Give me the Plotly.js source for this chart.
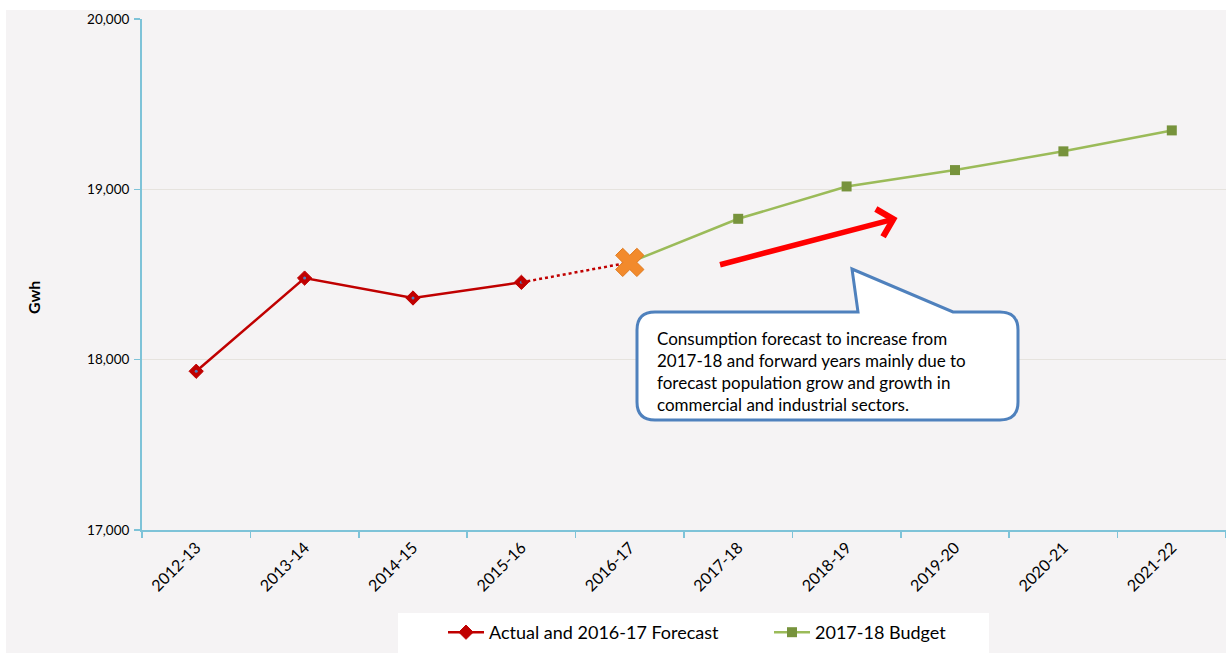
<!DOCTYPE html>
<html>
<head>
<meta charset="utf-8">
<script src="https://cdn.plot.ly/plotly-3.0.1.min.js"></script>
<style>
html,body{margin:0;padding:0;background:#ffffff;width:1226px;height:653px;overflow:hidden;}
#chart{position:absolute;left:6px;top:10px;width:1220px;height:643px;}
</style>
</head>
<body>
<div id="chart"></div>
<script>
const categories = ['2012-13','2013-14','2014-15','2015-16','2016-17','2017-18','2018-19','2019-20','2020-21','2021-22'];
const actual = [17932, 18479, 18362, 18454, null, null, null, null, null, null];
const forecastLink = [null, null, null, 18454, 18571, null, null, null, null, null];
const budget = [null, null, null, null, 18571, 18827, 19017, 19113, 19223, 19346];
const forecastMark = [null, null, null, null, 18571, null, null, null, null, null];
const yTicks = [17000, 18000, 19000, 20000];
const calloutLines = [
  'Consumption forecast to increase from',
  '2017-18 and forward years mainly due to',
  'forecast population grow and growth in',
  'commercial and industrial sectors.'
];

const FONT = 'Lato, "Open Sans", sans-serif';

// plot area geometry in page pixels (for shapes in paper coords)
const PL = 142, PR = 1226, PT = 19, PB = 530;
const px = x => (x - PL) / (PR - PL);
const py = y => (PB - y) / (PB - PT);

const traces = [
  {
    x: categories, y: actual, name: 'Actual and 2016-17 Forecast', type: 'scatter', mode: 'lines+markers',
    line: {color: '#c00000', width: 2.5},
    marker: {symbol: 'diamond', size: 11, color: '#c00000', line: {color: '#c00000', width: 1}},
    connectgaps: false, legend: 'legend'
  },
  {
    x: categories, y: budget, name: '2017-18 Budget', type: 'scatter', mode: 'lines+markers',
    line: {color: '#9bbb59', width: 2.5},
    marker: {symbol: 'square', size: 10, color: '#77933c'},
    connectgaps: false, legend: 'legend2'
  },
  {
    x: categories, y: actual, showlegend: false, type: 'scatter', mode: 'markers',
    marker: {symbol: 'circle', size: 3, color: '#4f81bd'}, hoverinfo: 'skip'
  },
  {
    x: categories, y: forecastLink, showlegend: false, type: 'scatter', mode: 'lines',
    line: {color: '#c00000', width: 2.5, dash: 'dot'}, hoverinfo: 'skip'
  },
  {
    x: categories, y: forecastMark, showlegend: false, type: 'scatter', mode: 'markers',
    marker: {symbol: 'x', size: 25, color: '#f28a2c', line: {color: '#e07a1e', width: 1}}, hoverinfo: 'skip'
  }
];

// callout bubble path (page px -> paper)
function P(x, y){ return px(x).toFixed(5) + ',' + py(y).toFixed(5); }
const bx1 = 637, bx2 = 1018, by1 = 312, by2 = 420, r = 18;
const bubble = 'M ' + P(bx1 + r, by1) +
  ' L ' + P(858, by1) + ' L ' + P(852, 269) + ' L ' + P(953, by1) +
  ' L ' + P(bx2 - r, by1) + ' Q ' + P(bx2, by1) + ' ' + P(bx2, by1 + r) +
  ' L ' + P(bx2, by2 - r) + ' Q ' + P(bx2, by2) + ' ' + P(bx2 - r, by2) +
  ' L ' + P(bx1 + r, by2) + ' Q ' + P(bx1, by2) + ' ' + P(bx1, by2 - r) +
  ' L ' + P(bx1, by1 + r) + ' Q ' + P(bx1, by1) + ' ' + P(bx1 + r, by1) + ' Z';

const annotations = [
  {xref: 'paper', yref: 'paper', x: px(33), y: py(298), text: '<b>Gwh</b>', textangle: -90,
   showarrow: false, font: {family: FONT, size: 16, color: '#000'}, xanchor: 'center', yanchor: 'middle'},
  {xref: 'x', yref: 'y', x: 6.47, y: 18831, ax: -179, ay: 47, axref: 'pixel', ayref: 'pixel',
   showarrow: true, arrowhead: 4, arrowwidth: 5.5, arrowsize: 1, arrowcolor: '#ff0000', text: ''}
];
const lineYs = [338, 360, 382, 404];
calloutLines.forEach((t, i) => {
  annotations.push({xref: 'paper', yref: 'paper', x: px(655), y: py(lineYs[i]), text: t,
    showarrow: false, xanchor: 'left', yanchor: 'middle', align: 'left',
    font: {family: FONT, size: 17, color: '#000'}});
});

const legendBase = {orientation: 'h', xref: 'container', yref: 'container', xanchor: 'left',
  y: 1 - (614 - 10) / 643, yanchor: 'top', itemwidth: 36,
  bgcolor: 'rgba(0,0,0,0)', font: {family: FONT, size: 18, color: '#000'}};

const layout = {
  width: 1220, height: 643,
  margin: {l: 136, r: 0, t: 9, b: 123, autoexpand: false},
  paper_bgcolor: '#f5f3f4', plot_bgcolor: '#f5f3f4',
  font: {family: FONT, color: '#000'},
  showlegend: true,
  legend: Object.assign({}, legendBase, {x: (443 - 6) / 1220}),
  legend2: Object.assign({}, legendBase, {x: (769 - 6) / 1220}),
  xaxis: {type: 'category', range: [-0.5, 9.5], tickson: 'boundaries', ticks: 'outside', ticklen: 6,
    tickcolor: '#7ec3d8', tickwidth: 1.5, showline: true, linecolor: '#7ec3d8', linewidth: 2, showgrid: false,
    tickangle: -45, tickfont: {family: FONT, size: 16, color: '#000'}, zeroline: false, fixedrange: true},
  yaxis: {range: [17000, 20000], tickvals: yTicks, tickformat: ',', ticks: 'outside', ticklen: 6,
    tickcolor: '#7ec3d8', tickwidth: 1.5, showline: true, linecolor: '#7ec3d8', linewidth: 2, showgrid: true,
    gridcolor: '#e6e3de', gridwidth: 1.5, zeroline: false, ticklabelstandoff: 2,
    tickfont: {family: FONT, size: 13.5, color: '#000'}, fixedrange: true},
  shapes: [
    {type: 'rect', xref: 'paper', yref: 'paper', x0: px(398), x1: px(989), y0: py(653), y1: py(613),
     fillcolor: '#ffffff', line: {width: 0}, layer: 'below'},
    {type: 'path', xref: 'paper', yref: 'paper', path: bubble, fillcolor: '#ffffff',
     line: {color: '#4f81bd', width: 3}, layer: 'above'}
  ],
  annotations: annotations
};

Plotly.newPlot('chart', traces, layout, {staticPlot: true, displayModeBar: false});
</script>
</body>
</html>
